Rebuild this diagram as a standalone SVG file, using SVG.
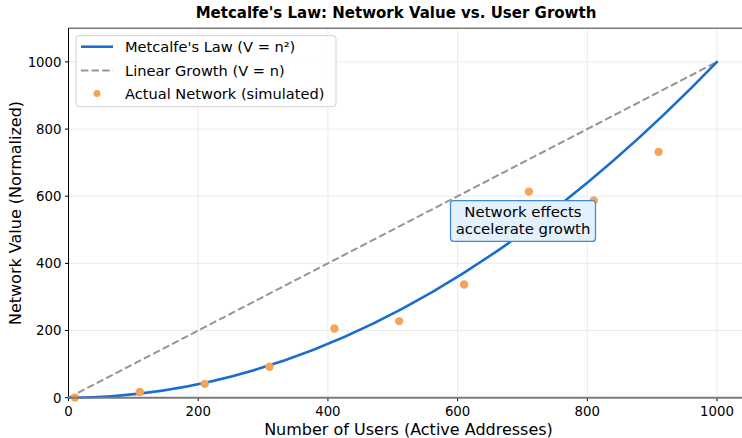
<svg xmlns="http://www.w3.org/2000/svg" width="742" height="438" viewBox="0 0 742 438">
  <style>
    text { font-family: "DejaVu Sans", "Liberation Sans", sans-serif; fill: #000; }
    .tick { font-size: 13.3px; }
    .ytick { text-anchor: end; }
    .xtick { text-anchor: middle; }
    .label { font-size: 16px; text-anchor: middle; }
    .title { font-size: 15px; font-weight: bold; text-anchor: middle; }
    .legend { font-size: 14.6px; }
    .note { font-size: 14.9px; text-anchor: middle; }
    .grid line { stroke: #ebebeb; stroke-width: 1; }
    .ticks line { stroke: #000; stroke-width: 1; }
    .pt { fill: #f5a555; }
    .metcalfe { fill: none; stroke: #1a6dcf; stroke-width: 2.6; stroke-linecap: round; }
    .linear { fill: none; stroke: #959595; stroke-width: 2; stroke-dasharray: 7.4 3.2; }
  </style>

  <rect width="742" height="438" fill="#fff"/>

  <!-- title -->
  <text class="title" x="396" y="18">Metcalfe's Law: Network Value vs. User Growth</text>

  <!-- grid -->
  <g class="grid">
    <line x1="198.2" y1="28.3" x2="198.2" y2="397.7"/>
    <line x1="327.9" y1="28.3" x2="327.9" y2="397.7"/>
    <line x1="457.6" y1="28.3" x2="457.6" y2="397.7"/>
    <line x1="587.3" y1="28.3" x2="587.3" y2="397.7"/>
    <line x1="717" y1="28.3" x2="717" y2="397.7"/>
    <line x1="68.5" y1="330.5" x2="742" y2="330.5"/>
    <line x1="68.5" y1="263.4" x2="742" y2="263.4"/>
    <line x1="68.5" y1="196.2" x2="742" y2="196.2"/>
    <line x1="68.5" y1="129.1" x2="742" y2="129.1"/>
    <line x1="68.5" y1="61.9" x2="742" y2="61.9"/>
  </g>

  <!-- frame -->
  <line x1="68.5" y1="28.3" x2="742" y2="28.3" stroke="#7a7a7a" stroke-width="1.5"/>
  <line x1="68.5" y1="28.3" x2="68.5" y2="397.7" stroke="#000" stroke-width="1"/>

  <!-- ticks -->
  <g class="ticks">
    <line x1="65" y1="397.7" x2="68.5" y2="397.7"/>
    <line x1="65" y1="330.5" x2="68.5" y2="330.5"/>
    <line x1="65" y1="263.4" x2="68.5" y2="263.4"/>
    <line x1="65" y1="196.2" x2="68.5" y2="196.2"/>
    <line x1="65" y1="129.1" x2="68.5" y2="129.1"/>
    <line x1="65" y1="61.9" x2="68.5" y2="61.9"/>
    <line x1="68.5" y1="397.7" x2="68.5" y2="401.2"/>
    <line x1="198.2" y1="397.7" x2="198.2" y2="401.2"/>
    <line x1="327.9" y1="397.7" x2="327.9" y2="401.2"/>
    <line x1="457.6" y1="397.7" x2="457.6" y2="401.2"/>
    <line x1="587.3" y1="397.7" x2="587.3" y2="401.2"/>
    <line x1="717" y1="397.7" x2="717" y2="401.2"/>
  </g>

  <!-- tick labels -->
  <g class="tick">
    <text class="ytick" x="61.5" y="402.5">0</text>
    <text class="ytick" x="61.5" y="335.3">200</text>
    <text class="ytick" x="61.5" y="268.2">400</text>
    <text class="ytick" x="61.5" y="201">600</text>
    <text class="ytick" x="61.5" y="133.9">800</text>
    <text class="ytick" x="61.5" y="66.7">1000</text>
    <text class="xtick" x="68.5" y="416">0</text>
    <text class="xtick" x="198.2" y="416">200</text>
    <text class="xtick" x="327.9" y="416">400</text>
    <text class="xtick" x="457.6" y="416">600</text>
    <text class="xtick" x="587.3" y="416">800</text>
    <text class="xtick" x="717" y="416">1000</text>
  </g>

  <!-- axis labels -->
  <text class="label" x="408.5" y="434.5">Number of Users (Active Addresses)</text>
  <text class="label" transform="translate(21,213) rotate(-90)">Network Value (Normalized)</text>

  <!-- series -->
  <g id="series">
    <path id="linear-growth" class="linear" d="M68.5,397.7 L717,61.9"/>
    <path id="metcalfe-curve" class="metcalfe" d="M68.5,397.7 Q392.75,397.7 717,61.9"/>
    <g id="actual-network">
      <circle class="pt" cx="75" cy="397.6" r="4.2"/>
      <circle class="pt" cx="139.8" cy="392" r="4.2"/>
      <circle class="pt" cx="204.7" cy="383.9" r="4.2"/>
      <circle class="pt" cx="269.5" cy="366.8" r="4.2"/>
      <circle class="pt" cx="334.4" cy="328.5" r="4.2"/>
      <circle class="pt" cx="399.2" cy="321.1" r="4.2"/>
      <circle class="pt" cx="464.1" cy="284.5" r="4.2"/>
      <circle class="pt" cx="528.9" cy="191.6" r="4.2"/>
      <circle class="pt" cx="593.8" cy="200.4" r="4.2"/>
      <circle class="pt" cx="658.6" cy="151.9" r="4.2"/>
    </g>
  </g>

  <!-- baseline -->
  <line x1="68.5" y1="397.7" x2="742" y2="397.7" stroke="#7a7a7a" stroke-width="2"/>

  <!-- annotation -->
  <g id="note">
    <rect x="450.5" y="200.7" width="145" height="40.6" rx="3" fill="#e3f1fd" stroke="#3f8ad8" stroke-width="1.3"/>
    <text class="note" x="523" y="216.5">Network effects</text>
    <text class="note" x="523" y="234">accelerate growth</text>
  </g>

  <!-- legend -->
  <g id="legend">
    <rect x="76" y="35.7" width="260" height="71" rx="3" fill="#fff" fill-opacity="0.8" stroke="#d0d0d0" stroke-width="1"/>
    <line x1="81" y1="46.7" x2="113" y2="46.7" stroke="#1a6dcf" stroke-width="2.6"/>
    <line x1="81" y1="70.5" x2="113" y2="70.5" stroke="#959595" stroke-width="2" stroke-dasharray="7.4 3.2"/>
    <circle class="pt" cx="97" cy="93.5" r="3.5"/>
    <text class="legend" x="125" y="52">Metcalfe's Law (V = n²)</text>
    <text class="legend" x="125" y="75.8">Linear Growth (V = n)</text>
    <text class="legend" x="125" y="98.8">Actual Network (simulated)</text>
  </g>
</svg>
